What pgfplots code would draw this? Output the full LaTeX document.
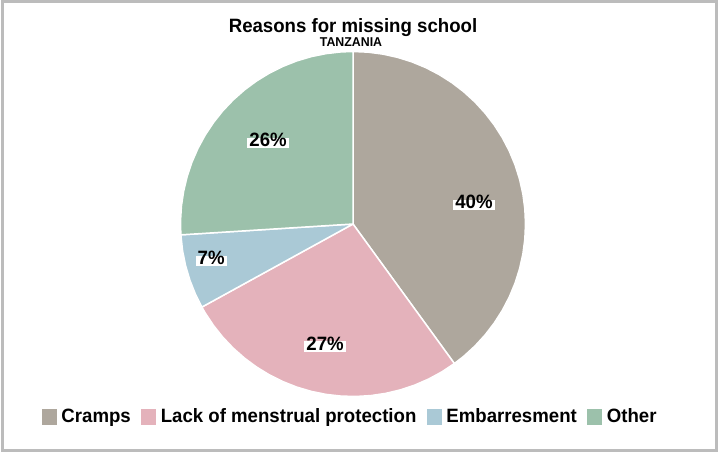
\documentclass[border=0pt]{standalone}
\usepackage{fontspec}
\setmainfont{Liberation Sans}[FakeStretch=0.965]
\usepackage{pgfplots}
\pgfplotsset{compat=1.18}
\usepgfplotslibrary{polar}

\definecolor{cramps}{RGB}{174,167,157}
\definecolor{lack}{RGB}{228,178,187}
\definecolor{emb}{RGB}{170,201,214}
\definecolor{other}{RGB}{156,193,171}
\definecolor{framegray}{RGB}{188,188,188}

\begin{document}
\begin{tikzpicture}
\useasboundingbox (0pt,0pt) rectangle (720pt,456pt);
\draw[framegray, line width=2.5pt] (2.5pt,5.5pt) rectangle (716.5pt,454.5pt);

\node[font=\fontsize{19.3}{22}\selectfont\bfseries, anchor=base, inner sep=0pt] at (353pt,423pt) {Reasons for missing school};
\node[font=\fontsize{12.8}{14}\selectfont\bfseries, anchor=base, inner sep=0pt] at (351pt,409pt) {TANZANIA};

% shares: Cramps 40, Lack of menstrual protection 27, Embarresment 7, Other 26
% angles run clockwise from the top (90 deg)
\begin{polaraxis}[
	at={(353pt,232pt)},
	anchor=center,
	scale only axis,
	width=345pt,
	height=345pt,
	ymin=0, ymax=1,
	hide axis,
	clip=false,
	legend columns=4,
	legend style={
		at={(0.5,0)}, anchor=center, yshift=-20pt, xshift=-3pt,
		draw=none, fill=none,
		font=\fontsize{19.3}{22}\selectfont\bfseries,
		/tikz/every odd column/.append style={column sep=3pt},
		/tikz/every even column/.append style={column sep=9pt},
		nodes={inner sep=1.5pt},
	},
	legend image code/.code={\fill[#1,draw=none] (0pt,-8pt) rectangle (15pt,8pt);},
	every axis plot/.append style={draw=white, line width=1.5pt, line join=round},
]
\addplot[fill=cramps] coordinates {
	(0,0) (90,1) (85,1) (80,1) (75,1) (70,1) (65,1) (60,1) (55,1) (50,1) (45,1)
	(40,1) (35,1) (30,1) (25,1) (20,1) (15,1) (10,1) (5,1) (0,1) (-5,1) (-10,1)
	(-15,1) (-20,1) (-25,1) (-30,1) (-35,1) (-40,1) (-45,1) (-50,1) (-54,1) (0,0)
} -- cycle;
\addlegendentry{Cramps}
\addplot[fill=lack] coordinates {
	(0,0) (-54,1) (-59,1) (-64,1) (-69,1) (-74,1) (-79,1) (-84,1) (-89,1) (-94,1)
	(-99,1) (-104,1) (-109,1) (-114,1) (-119,1) (-124,1) (-129,1) (-134,1)
	(-139,1) (-144,1) (-149,1) (-151.2,1) (0,0)
} -- cycle;
\addlegendentry{Lack of menstrual protection}
\addplot[fill=emb] coordinates {
	(0,0) (-151.2,1) (-156,1) (-161,1) (-166,1) (-171,1) (-176.4,1) (0,0)
} -- cycle;
\addlegendentry{Embarresment}
\addplot[fill=other] coordinates {
	(0,0) (-176.4,1) (-181,1) (-186,1) (-191,1) (-196,1) (-201,1) (-206,1)
	(-211,1) (-216,1) (-221,1) (-226,1) (-231,1) (-236,1) (-241,1) (-246,1)
	(-251,1) (-256,1) (-261,1) (-266,1) (-270,1) (0,0)
} -- cycle;
\addlegendentry{Other}

\addplot[forget plot, draw=none, mark=none, only marks,
	nodes near coords, point meta=explicit symbolic,
	every node near coord/.style={anchor=center, fill=white, text=black,
		font=\fontsize{19.3}{22}\selectfont\bfseries,
		inner xsep=2pt, inner ysep=1.5pt, text height=0.72em, text depth=0.05em},
] coordinates {
	(8.9,0.71) [40\%]
	(-102.8,0.73) [27\%]
	(-165.4,0.85) [7\%]
	(136.4,0.68) [26\%]
};
\end{polaraxis}
\end{tikzpicture}
\end{document}
